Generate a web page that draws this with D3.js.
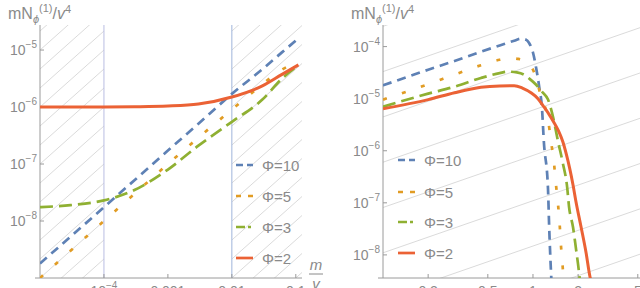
<!DOCTYPE html>
<html>
<head>
<meta charset="utf-8">
<script src="https://cdn.jsdelivr.net/npm/d3@7"></script>
<style>
  body { margin: 0; background: #fff; }
  svg { display: block; font-family: "Liberation Sans", Arial, sans-serif; }
  .tick-label { fill: #8a8a8a; font-size: 14px; }
  .legend-label { fill: #8a8a8a; font-size: 15px; }
</style>
</head>
<body>
<div id="chart"></div>
<script>
// ---- data ----
const seriesNames = ["Φ=10", "Φ=5", "Φ=3", "Φ=2"];
const seriesColors = ["#5e81b5", "#e19c24", "#8fb032", "#eb6235"];

// left panel: m/v on log axis
const leftM = [1e-5, 3e-5, 1e-4, 3e-4, 1e-3, 3e-3, 0.01, 0.03, 0.06, 0.11];
const leftPhi10 = [1.8e-9, 5.3e-9, 1.75e-8, 5.2e-8, 1.72e-7, 5.1e-7, 1.7e-6, 4.6e-6, 9e-6, 1.6e-5];
const leftPhi5 = [1.0e-9, 3e-9, 1.0e-8, 3e-8, 1e-7, 2.9e-7, 9e-7, 2.5e-6, 4.5e-6, 6.2e-6];
const leftPhi3 = [1.75e-8, 1.9e-8, 2.3e-8, 3.5e-8, 8e-8, 2.1e-7, 5.5e-7, 1.35e-6, 3.1e-6, 5.4e-6];
const leftPhi2 = [1.0e-6, 1.0e-6, 1.0e-6, 1.01e-6, 1.04e-6, 1.13e-6, 1.5e-6, 2.35e-6, 3.7e-6, 5.5e-6];
const leftXTicks = [1e-4, 1e-3, 0.01, 0.1];
const leftXLabels = [["10", "−4"], ["0.001"], ["0.01"], ["0.1"]];
const leftYTicks = [1e-8, 1e-7, 1e-6, 1e-5];
const leftYLabels = ["−8", "−7", "−6", "−5"];
const leftBounds = [1e-4, 0.01]; // vertical marker lines / hatched outside

// right panel
const rightM10 = [0.1, 0.2, 0.3, 0.45, 0.6, 0.75, 0.83, 0.9, 0.94, 1.0, 1.05, 1.1, 1.15, 1.18, 1.26, 1.28, 1.32, 1.34];
const rightPhi10 = [1.8e-5, 3.6e-5, 5.3e-5, 8e-5, 1.05e-4, 1.3e-4, 1.42e-4, 1.36e-4, 1.19e-4, 7.7e-5, 3.9e-5, 1.7e-5, 6.2e-6, 1.6e-6, 1.8e-7, 4.1e-8, 4.5e-9, 2e-9];
const rightM5 = [0.1, 0.2, 0.3, 0.45, 0.6, 0.7, 0.8, 0.9, 1.0, 1.05, 1.13, 1.26, 1.32, 1.38, 1.42, 1.47, 1.51, 1.54, 1.58, 1.6];
const rightPhi5 = [9.6e-6, 1.9e-5, 2.9e-5, 4.4e-5, 5.6e-5, 6.0e-5, 5.8e-5, 5.1e-5, 3.6e-5, 2.5e-5, 1.1e-5, 4e-6, 1.5e-6, 5.9e-7, 2.4e-7, 9.2e-8, 3.5e-8, 1.4e-8, 5.6e-9, 3e-9];
const rightM3 = [0.1, 0.2, 0.3, 0.45, 0.6, 0.68, 0.78, 0.87, 0.95, 1.05, 1.15, 1.26, 1.36, 1.47, 1.58, 1.69, 1.74, 1.85, 1.94, 2.03, 2.06];
const rightPhi3 = [7e-6, 1.25e-5, 1.7e-5, 2.5e-5, 3.1e-5, 3.3e-5, 3.2e-5, 2.9e-5, 2.4e-5, 1.85e-5, 1.36e-5, 9.6e-6, 4.5e-6, 1.5e-6, 5.9e-7, 2e-7, 8.4e-8, 3.4e-8, 1.25e-8, 4.5e-9, 3e-9];
const rightM2 = [0.1, 0.2, 0.3, 0.45, 0.6, 0.75, 0.85, 0.97, 1.08, 1.18, 1.28, 1.38, 1.48, 1.58, 1.67, 1.76, 1.85, 1.93, 2.09, 2.26, 2.4, 2.45];
const rightPhi2 = [6.4e-6, 9.6e-6, 1.3e-5, 1.65e-5, 1.76e-5, 1.78e-5, 1.6e-5, 1.3e-5, 1e-5, 7e-6, 5.0e-6, 3.5e-6, 2.4e-6, 1.5e-6, 8.5e-7, 4.5e-7, 2.2e-7, 1.1e-7, 3.5e-8, 1.1e-8, 3.8e-9, 3e-9];
const rightXTicks = [0.2, 0.5, 1, 2, 5];
const rightXLabels = ["0.2", "0.5", "1", "2", "5"];
const rightYTicks = [1e-8, 1e-7, 1e-6, 1e-5, 1e-4];
const rightYLabels = ["−8", "−7", "−6", "−5", "−4"];

// dash styles (line / legend sample)
const dashes = ["9,6", "4,16", "13,6", null];
const legendDashes = ["7,4", "5,7", "9,3,3,3", null];

const width = 640, height = 288;
const svg = d3.select("#chart").append("svg")
    .attr("width", width)
    .attr("height", height);

function drawPanel(cfg) {
    const x = d3.scaleLog().domain(cfg.xDomain).range([cfg.left, cfg.right]);
    const y = d3.scaleLog().domain(cfg.yDomain).range([cfg.bottom, cfg.top]);
    const g = svg.append("g");
    const id = cfg.id;

    // hatch lines: lines of constant value/m, clipped to given x ranges
    const clip = svg.append("clipPath").attr("id", "clip-" + id);
    cfg.hatchRanges.forEach(r => {
        clip.append("rect")
            .attr("x", x(r[0])).attr("y", cfg.top)
            .attr("width", x(r[1]) - x(r[0])).attr("height", cfg.bottom - cfg.top);
    });
    const hatch = g.append("g").attr("clip-path", `url(#clip-${id})`);
    const m0 = cfg.xDomain[0] / 10, m1 = cfg.xDomain[1] * 10;
    for (let k = cfg.hatchFrom; k <= cfg.hatchTo; k++) {
        const c = Math.pow(10, k * cfg.hatchStep);
        hatch.append("line")
            .attr("x1", x(m0)).attr("y1", y(c * m0))
            .attr("x2", x(m1)).attr("y2", y(c * m1))
            .attr("stroke", "#d6d6d6").attr("stroke-width", 0.9);
    }

    // vertical marker lines
    (cfg.markers || []).forEach((mk, i) => {
        g.append("line")
            .attr("x1", x(mk)).attr("x2", x(mk))
            .attr("y1", cfg.top).attr("y2", cfg.bottom)
            .attr("stroke", i === 0 ? "#b9bde2" : "#9fb4da").attr("stroke-width", 1);
    });

    // axes
    g.append("line")
        .attr("x1", cfg.left).attr("x2", cfg.left)
        .attr("y1", cfg.top).attr("y2", cfg.bottom)
        .attr("stroke", "#9a9a9a").attr("stroke-width", 1);
    g.append("line")
        .attr("x1", cfg.left - 5).attr("x2", cfg.axisEnd)
        .attr("y1", cfg.bottom).attr("y2", cfg.bottom)
        .attr("stroke", "#9a9a9a").attr("stroke-width", 1);

    // y ticks
    cfg.yTicks.forEach((t, i) => {
        g.append("line")
            .attr("x1", cfg.left).attr("x2", cfg.left + 4)
            .attr("y1", y(t)).attr("y2", y(t))
            .attr("stroke", "#9a9a9a");
        const txt = g.append("text").attr("class", "tick-label")
            .attr("x", cfg.left - 3).attr("y", y(t) + 5)
            .attr("text-anchor", "end");
        txt.append("tspan").text("10");
        txt.append("tspan").attr("dy", -7).attr("font-size", 10).text(cfg.yLabels[i]);
    });

    // x ticks
    cfg.xTicks.forEach((t, i) => {
        g.append("line")
            .attr("x1", x(t)).attr("x2", x(t))
            .attr("y1", cfg.bottom).attr("y2", cfg.bottom - 4)
            .attr("stroke", "#9a9a9a");
        const lab = cfg.xLabels[i];
        const txt = g.append("text").attr("class", "tick-label")
            .attr("x", x(t)).attr("y", cfg.bottom + 18)
            .attr("text-anchor", "middle");
        if (Array.isArray(lab) && lab.length === 2) {
            txt.append("tspan").text(lab[0]);
            txt.append("tspan").attr("dy", -7).attr("font-size", 10).text(lab[1]);
        } else {
            txt.text(Array.isArray(lab) ? lab[0] : lab);
        }
    });

    // y axis title  mN_φ^(1)/v^4
    const title = g.append("text").attr("class", "tick-label")
        .attr("x", cfg.titleX).attr("y", 19).style("font-size", "16px");
    title.append("tspan").text("mN");
    title.append("tspan").attr("dy", 4).attr("font-size", 11).attr("font-style", "italic").text("ϕ");
    title.append("tspan").attr("dy", -11).attr("font-size", 11).text("(1)");
    title.append("tspan").attr("dy", 7).text("/");
    title.append("tspan").attr("font-style", "italic").text("v");
    title.append("tspan").attr("dy", -6).attr("font-size", 11).text("4");

    // curves
    const line = d3.line()
        .x(d => x(d[0]))
        .y(d => y(d[1]))
        .curve(d3.curveMonotoneX);
    const plotClip = svg.append("clipPath").attr("id", "plot-" + id);
    plotClip.append("rect")
        .attr("x", cfg.left).attr("y", cfg.top - 5)
        .attr("width", cfg.axisEnd - cfg.left).attr("height", cfg.bottom - cfg.top + 5);
    const curves = g.append("g").attr("clip-path", `url(#plot-${id})`);
    cfg.series.forEach((s, i) => {
        curves.append("path")
            .datum(d3.zip(s[0], s[1]))
            .attr("d", line)
            .attr("fill", "none")
            .attr("stroke", seriesColors[i])
            .attr("stroke-width", i === 3 ? 3 : 2.7)
            .attr("stroke-dasharray", dashes[i]);
    });

    // legend
    seriesNames.forEach((name, i) => {
        const ly = cfg.legendY[i];
        g.append("line")
            .attr("x1", cfg.legendX).attr("x2", cfg.legendX + 17)
            .attr("y1", ly).attr("y2", ly)
            .attr("stroke", seriesColors[i])
            .attr("stroke-width", 2.7)
            .attr("stroke-dasharray", legendDashes[i]);
        g.append("text").attr("class", "legend-label")
            .attr("x", cfg.legendX + 26).attr("y", ly + 5.5)
            .text(name);
    });
    return g;
}

const leftPanel = drawPanel({
    id: "l",
    xDomain: [1e-5, 0.125], yDomain: [1e-9, 2.75e-5],
    left: 40, right: 302, top: 25, bottom: 278, axisEnd: 302,
    hatchRanges: [[1e-5, leftBounds[0]], [leftBounds[1], 0.125]],
    hatchStep: 1 / 3, hatchFrom: -27, hatchTo: 3,
    markers: leftBounds,
    xTicks: leftXTicks, xLabels: leftXLabels,
    yTicks: leftYTicks, yLabels: leftYLabels,
    titleX: 8,
    series: [[leftM, leftPhi10], [leftM, leftPhi5], [leftM, leftPhi3], [leftM, leftPhi2]],
    legendX: 236, legendY: [165, 196, 227, 258]
});

// m/v fraction label on the left x axis
const frac = leftPanel.append("g").attr("class", "tick-label");
frac.append("text").attr("x", 316).attr("y", 270).attr("text-anchor", "middle")
    .attr("font-style", "italic").style("font-size", "15px").text("m");
frac.append("line").attr("x1", 309).attr("x2", 323).attr("y1", 274).attr("y2", 274)
    .attr("stroke", "#8a8a8a");
frac.append("text").attr("x", 316).attr("y", 289).attr("text-anchor", "middle")
    .attr("font-style", "italic").style("font-size", "15px").text("v");

drawPanel({
    id: "r",
    xDomain: [0.1, 5.5], yDomain: [3.6e-9, 2.6e-4],
    left: 383, right: 644, top: 25, bottom: 278, axisEnd: 640,
    hatchRanges: [[0.1, 5.5]],
    hatchStep: 0.87, hatchFrom: -13, hatchTo: -1,
    markers: [],
    xTicks: rightXTicks, xLabels: rightXLabels,
    yTicks: rightYTicks, yLabels: rightYLabels,
    titleX: 351,
    series: [[rightM10, rightPhi10], [rightM5, rightPhi5], [rightM3, rightPhi3], [rightM2, rightPhi2]],
    legendX: 398, legendY: [160, 192, 222, 253]
});
</script>
</body>
</html>
